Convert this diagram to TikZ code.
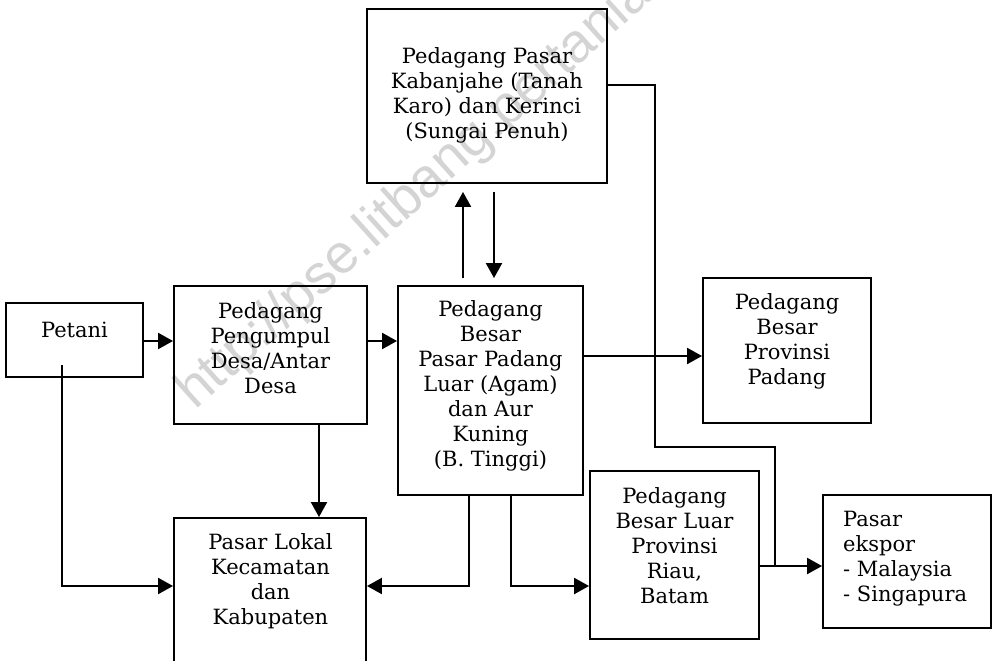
\documentclass[tikz,border=0pt]{standalone}
\usepackage{fontspec}
\setmainfont{DejaVu Serif}
\setsansfont{Liberation Sans}
\usetikzlibrary{arrows.meta}
\tikzset{
  box/.style={draw, line width=1.9pt, inner sep=0pt, minimum width=#1},
  lbl/.style={inner sep=0pt, align=center, font=\fontsize{21}{25}\selectfont},
  conn/.style={line width=2.2pt},
  arr/.style={line width=2.2pt, -{Triangle[length=15pt,width=16pt]}},
}
\begin{document}
\begin{tikzpicture}[x=1pt,y=-1pt]
\useasboundingbox (0,0) rectangle (993,661);
% watermark
\node[rotate=42, anchor=base west, inner sep=0pt, text=black!17,
      font=\sffamily\fontsize{55}{55}\selectfont] (wm) at (195,411)
      {http://pse.litbang.pertanian.go.id};
% boxes
\node[box=137pt, minimum height=74pt]  (petani)    at (74.5,340)  {};
\node[box=193pt, minimum height=138pt] (pengumpul) at (270.5,355) {};
\node[box=192pt, minimum height=182pt] (lokal)     at (270,609)   {};
\node[box=240pt, minimum height=174pt] (kab)       at (487,96)    {};
\node[box=185pt, minimum height=209pt] (besar)     at (490.5,390.5) {};
\node[box=168pt, minimum height=145pt] (padang)    at (787,350.5) {};
\node[box=169pt, minimum height=168pt] (luar)      at (674.5,555) {};
\node[box=168pt, minimum height=133pt] (ekspor)    at (907,561.5) {};
% texts
\node[lbl] (petani-t) at (74.5,330) {Petani};
\node[lbl] (pengumpul-t) at (270.5,348.5) {Pedagang\\Pengumpul\\Desa/Antar\\Desa};
\node[lbl] (lokal-t) at (270.5,581.5) {Pasar Lokal\\Kecamatan\\dan\\Kabupaten};
\node[lbl] (kab-t) at (487,95.5) {Pedagang Pasar\\Kabanjahe (Tanah\\Karo) dan Kerinci\\(Sungai Penuh)};
\node[lbl] (besar-t) at (490.5,386) {Pedagang\\Besar\\Pasar Padang\\Luar (Agam)\\dan Aur\\Kuning\\(B. Tinggi)};
\node[lbl] (padang-t) at (787,341.5) {Pedagang\\Besar\\Provinsi\\Padang};
\node[lbl] (luar-t) at (674.5,546) {Pedagang\\Besar Luar\\Provinsi\\Riau,\\Batam};
\node[lbl, align=left, anchor=west] (ekspor-t) at (843,558.5) {Pasar\\ekspor\\- Malaysia\\- Singapura};
% helper coordinates
\coordinate (toprow) at (0,341);
\coordinate (midrow) at (0,356);
\coordinate (lowrow) at (0,586);
\coordinate (exprow) at (0,566);
\coordinate (p1) at (62,365);
\coordinate (c319) at (319,0);
\coordinate (c463) at (463,0);
\coordinate (c494) at (494,0);
\coordinate (c469) at (469,0);
\coordinate (c511) at (511,0);
\coordinate (k1) at (655,85);
\coordinate (k2) at (775,447);
% connectors
\draw[arr] (petani.east |- toprow) -- (pengumpul.west |- toprow);
\draw[arr] (pengumpul.east |- toprow) -- (besar.west |- toprow);
\draw[arr] (p1) -- (p1 |- lowrow) -- (lokal.west |- lowrow);
\draw[arr] (c319 |- pengumpul.south) -- (c319 |- lokal.north);
\draw[arr] (c469 |- besar.south) -- (c469 |- lowrow) -- (lokal.east |- lowrow);
\draw[arr] (c511 |- besar.south) -- (c511 |- lowrow) -- (luar.west |- lowrow);
\draw[arr] (besar.east |- midrow) -- (padang.west |- midrow);
\draw[arr, shorten <=7pt, shorten >=8pt] (c463 |- besar.north) -- (c463 |- kab.south);
\draw[arr, shorten <=8pt, shorten >=7pt] (c494 |- kab.south) -- (c494 |- besar.north);
\draw[conn] (kab.east |- k1) -- (k1) -- (k1 |- k2) -- (k2) -- (k2 |- exprow);
\draw[arr] (luar.east |- exprow) -- (ekspor.west |- exprow);
\end{tikzpicture}
\end{document}
